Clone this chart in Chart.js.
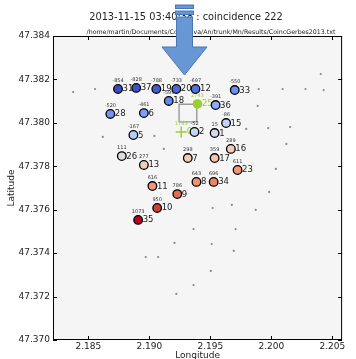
<!DOCTYPE html>
<html>
<head>
<meta charset="utf-8">
<script src="https://cdn.jsdelivr.net/npm/chart.js@4"></script>
<style>
html, body { margin: 0; padding: 0; background: #fff; }
canvas { display: block; }
</style>
</head>
<body>
<canvas id="myChart" width="356" height="359"></canvas>
<script>
// stations that saw the shower: id, position, signal value
const stationIds = [31, 37, 19, 20, 12, 33, 18, 28, 6, 36, 5, 15, 2, 1, 26, 13, 11, 9, 10, 35, 16, 7, 17, 23, 8, 34]
const stationLon = [2.18743, 2.18892, 2.19057, 2.19221, 2.19378, 2.19700, 2.19159, 2.18680, 2.18955, 2.19543, 2.18869, 2.19629, 2.19370,
    2.19535, 2.18774, 2.18955, 2.19025, 2.19229, 2.19064, 2.18908, 2.19668, 2.19315, 2.19535, 2.19723, 2.19386, 2.19527]
const stationLat = [47.38156, 47.38161, 47.38156, 47.38156, 47.38156, 47.38151, 47.38101, 47.38041, 47.38045, 47.38082, 47.37944, 47.37999, 47.37958,
    47.37953, 47.37847, 47.37806, 47.37709, 47.37672, 47.37608, 47.37553, 47.37880, 47.37838, 47.37838, 47.37783, 47.37728, 47.37728]
const stationVal = [-854, -828, -788, -733, -697, -550, -599, -520, -461, -391, -167, -86, -52, 15, 111, 277, 616, 786, 950, 1073, 289, 298, 359, 611, 643, 696]

// stations without signal
const otherLon = [2.18375, 2.18555, 2.18618, 2.19041, 2.19119, 2.20405, 2.19896, 2.20092, 2.20280, 2.20429, 2.19888, 2.19794, 2.19974, 2.20154,
    2.20123, 2.20037, 2.19982, 2.19872, 2.19519, 2.19676, 2.19362, 2.19707, 2.19206, 2.19511, 2.19692, 2.18970, 2.19072, 2.19504, 2.19362, 2.19221]
const otherLat = [47.38142, 47.38156, 47.37935, 47.37940, 47.37880, 47.38225, 47.38156, 47.38156, 47.38156, 47.38151, 47.38078, 47.37972, 47.37976, 47.37981,
    47.37903, 47.37788, 47.37682, 47.37599, 47.37608, 47.37622, 47.37511, 47.37511, 47.37447, 47.37442, 47.37410, 47.37382, 47.37382, 47.37318, 47.37253, 47.37212]

// reconstructed core
const coreLon = [2.19316]
const coreLat = [47.38045]
const fitLon = [2.19394]
const fitLat = [47.38087]
const fitVal = [2743]
const fitId = [25]
const plusLon = [2.19261]
const plusLat = [47.37958]
const plusVal = [1743]
const plusId = [0]

const xTicks = [2.185, 2.190, 2.195, 2.200, 2.205]
const yTicks = [47.370, 47.372, 47.374, 47.376, 47.378, 47.380, 47.382, 47.384]

const titleText = '2013-11-15 03:40:38 : coincidence 222'
const fileText = '/home/martin/Documents/Code/Java/An/trunk/Mn/Results/CoincGerbes2013.txt'
const arrowLon = 2.19288

const FONT = '"DejaVu Sans", sans-serif'
const GREEN = '#9acd32'

// matplotlib coolwarm, 33 samples
const CW = [[59,76,192],[68,90,204],[77,104,215],[87,117,225],[98,130,234],[108,142,241],[119,154,247],[130,165,251],
    [141,176,254],[152,185,255],[163,194,255],[174,201,253],[184,208,249],[194,213,244],[204,217,238],[213,219,230],
    [221,221,221],[229,216,209],[236,211,197],[241,204,184],[245,196,173],[247,187,160],[247,177,148],[247,166,135],
    [244,154,123],[241,141,111],[236,127,99],[229,112,88],[222,96,77],[213,80,66],[203,62,56],[192,40,47],[180,4,38]]
function coolwarm(t){
    t = Math.max(0, Math.min(1, t)) * 32
    let i = Math.min(31, Math.floor(t)), f = t - i
    let c = CW[i].map((v, k) => Math.round(v + (CW[i+1][k] - v) * f))
    return 'rgb(' + c.join(',') + ')'
}
const vMin = Math.min(...stationVal), vMax = Math.max(...stationVal)

function pts(lon, lat){ return lon.map((x, i) => ({x: x, y: lat[i]})) }

function txt(ctx, s, x, y, size, color, align){
    ctx.font = size + 'px ' + FONT
    ctx.fillStyle = color
    ctx.textAlign = align
    ctx.textBaseline = 'middle'
    ctx.fillText(s, x, y)
}

const decor = {
    id: 'decor',
    beforeDraw(chart){
        const {ctx, chartArea: a} = chart
        ctx.save()
        ctx.fillStyle = '#fff'
        ctx.fillRect(0, 0, chart.width, chart.height)
        ctx.fillStyle = '#f5f5f5'
        ctx.fillRect(a.left, a.top, a.right - a.left, a.bottom - a.top)
        ctx.restore()
    },
    afterDatasetDraw(chart, args){
        const ctx = chart.ctx, sx = chart.scales.x, sy = chart.scales.y
        const name = args.meta.label
        ctx.save()
        if (name == 'stations'){
            for (let i = 0; i < stationIds.length; i++){
                let px = sx.getPixelForValue(stationLon[i]), py = sy.getPixelForValue(stationLat[i])
                txt(ctx, String(stationVal[i]), px, py - 8, 5, '#333', 'center')
                txt(ctx, String(stationIds[i]), px + 4.5, py + 0.3, 8.5, '#222', 'left')
            }
        }
        if (name == 'fit'){
            let px = sx.getPixelForValue(fitLon[0]), py = sy.getPixelForValue(fitLat[0])
            txt(ctx, String(fitVal[0]), px, py - 8, 5, GREEN, 'center')
            txt(ctx, String(fitId[0]), px + 4.5, py + 0.3, 8.5, GREEN, 'left')
        }
        if (name == 'plus'){
            let px = sx.getPixelForValue(plusLon[0]), py = sy.getPixelForValue(plusLat[0])
            txt(ctx, String(plusVal[0]), px, py - 8, 5, GREEN, 'center')
            txt(ctx, String(plusId[0]), px + 5.5, py + 0.3, 8.5, GREEN, 'left')
        }
        ctx.restore()
    },
    afterDraw(chart){
        const {ctx, chartArea: a} = chart, sx = chart.scales.x, sy = chart.scales.y
        ctx.save()
        // frame and inward ticks
        ctx.strokeStyle = '#000'
        ctx.lineWidth = 1
        ctx.strokeRect(a.left + 0.5, a.top + 0.5, a.right - a.left - 1, a.bottom - a.top - 1)
        ctx.beginPath()
        xTicks.forEach(v => {
            let p = Math.round(sx.getPixelForValue(v)) + 0.5
            ctx.moveTo(p, a.bottom); ctx.lineTo(p, a.bottom - 4)
            ctx.moveTo(p, a.top); ctx.lineTo(p, a.top + 4)
        })
        yTicks.forEach(v => {
            let p = Math.round(sy.getPixelForValue(v)) + 0.5
            ctx.moveTo(a.left, p); ctx.lineTo(a.left + 4, p)
            ctx.moveTo(a.right, p); ctx.lineTo(a.right - 4, p)
        })
        ctx.stroke()
        // titles
        txt(ctx, titleText, 186, 17.7, 9.8, '#222', 'center')
        txt(ctx, fileText, 211, 32.8, 6.3, '#222', 'center')
        // wind arrow
        let cx = sx.getPixelForValue(arrowLon)
        ctx.fillStyle = '#6797d4'
        ctx.strokeStyle = '#4a76b4'
        ctx.lineWidth = 1
        ctx.fillRect(cx - 9, 5, 18, 3.5); ctx.strokeRect(cx - 9, 5, 18, 3.5)
        ctx.fillRect(cx - 9, 11, 18, 3.5); ctx.strokeRect(cx - 9, 11, 18, 3.5)
        ctx.beginPath()
        ctx.moveTo(cx - 8, 17)
        ctx.lineTo(cx + 8, 17)
        ctx.lineTo(cx + 8, 47)
        ctx.lineTo(cx + 22.5, 47)
        ctx.lineTo(cx, 75)
        ctx.lineTo(cx - 22.5, 47)
        ctx.lineTo(cx - 8, 47)
        ctx.closePath()
        ctx.fill()
        ctx.stroke()
        ctx.restore()
    }
}

const ctx = document.getElementById('myChart').getContext('2d')

const myChart = new Chart(ctx, {
    type: 'scatter',
    data: {
        datasets: [
            {
                label: 'stations',
                data: pts(stationLon, stationLat),
                pointRadius: 4.3,
                pointBorderWidth: 1.3,
                pointBorderColor: '#000',
                pointBackgroundColor: stationVal.map(v => coolwarm((v - vMin) / (vMax - vMin))),
                order: 1
            },
            {
                label: 'fit',
                data: pts(fitLon, fitLat),
                pointRadius: 4.8,
                pointBorderWidth: 0,
                pointBackgroundColor: GREEN,
                order: 2
            },
            {
                label: 'plus',
                data: pts(plusLon, plusLat),
                pointStyle: 'cross',
                pointRadius: 5.5,
                pointBorderWidth: 1.5,
                pointBorderColor: GREEN,
                order: 3
            },
            {
                label: 'core',
                data: pts(coreLon, coreLat),
                pointStyle: 'rect',
                pointRadius: 12.5,
                pointBorderWidth: 1.4,
                pointBorderColor: '#999',
                pointBackgroundColor: 'rgba(0,0,0,0)',
                order: 4
            },
            {
                label: 'other',
                data: pts(otherLon, otherLat),
                pointRadius: 1.1,
                pointBorderWidth: 0,
                pointBackgroundColor: '#888',
                order: 5
            }
        ]
    },
    options: {
        responsive: false,
        animation: false,
        devicePixelRatio: 1,
        layout: { padding: { top: 36, right: 1, left: 0, bottom: 0 } },
        plugins: { legend: { display: false }, tooltip: { enabled: false } },
        scales: {
            x: {
                type: 'linear',
                min: 2.1821,
                max: 2.2058,
                afterBuildTicks: s => { s.ticks = xTicks.map(v => ({value: v})) },
                afterFit: s => { s.height = 19 },
                grid: { display: false, drawTicks: false },
                border: { display: false },
                ticks: { font: { family: FONT, size: 9 }, color: '#222', padding: 1, maxRotation: 0, autoSkip: false,
                    callback: v => v.toFixed(3) },
                title: { display: true, text: 'Longitude', font: { family: FONT, size: 9 }, color: '#222',
                    padding: { top: 0, bottom: -2 } }
            },
            y: {
                type: 'linear',
                min: 47.370,
                max: 47.384,
                afterBuildTicks: s => { s.ticks = yTicks.map(v => ({value: v})) },
                afterFit: s => { s.width = 53 },
                grid: { display: false, drawTicks: false },
                border: { display: false },
                ticks: { font: { family: FONT, size: 9 }, color: '#222', padding: 3, autoSkip: false,
                    callback: v => v.toFixed(3) },
                title: { display: true, text: 'Latitude', font: { family: FONT, size: 9 }, color: '#222',
                    padding: { top: 6.5, bottom: 0 } }
            }
        }
    },
    plugins: [decor]
})
</script>
</body>
</html>
